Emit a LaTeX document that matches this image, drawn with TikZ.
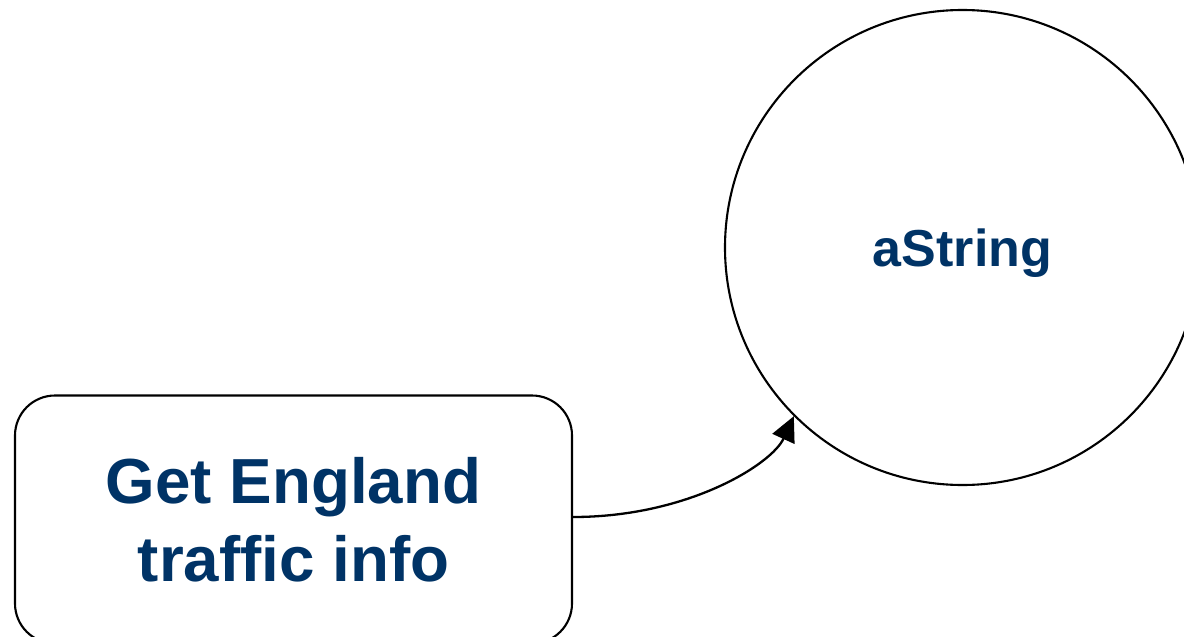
\documentclass[tikz,border=0pt]{standalone}
\usepackage{fontspec}
\setmainfont{Liberation Sans}
\usetikzlibrary{arrows.meta}
\definecolor{txtblue}{HTML}{003366}
\begin{document}
\begin{tikzpicture}[x=1pt,y=-1pt,
  procbox/.style={draw=black,line width=2.1pt,rounded corners=40pt,minimum width=557pt,minimum height=248pt,inner sep=0pt},
  proclbl/.style={inner sep=0pt,align=center,text=txtblue,font=\fontsize{63.7}{78}\selectfont\bfseries},
  databall/.style={draw=black,line width=2.1pt,circle,minimum size=475pt,inner sep=0pt},
  balllbl/.style={inner sep=0pt,text=txtblue,font=\fontsize{52}{62}\selectfont\bfseries},
  flow/.style={line width=2.3pt,-{Triangle[length=25pt,width=24pt]}}]
\useasboundingbox (0,0) rectangle (1184,637);
\node[procbox] (get) at (293.5,519.5) {};
\node[proclbl] (getlbl) at (293.5,520) {Get England\\traffic info};
\node[databall] (str) at (962.5,247.5) {};
\node[balllbl] (strlbl) at (962.5,253.5) {aString};
\draw[flow] ([yshift=2.5pt]get.east) .. controls +(115,0) and +(-22,48) .. (str.225);
\end{tikzpicture}
\end{document}
